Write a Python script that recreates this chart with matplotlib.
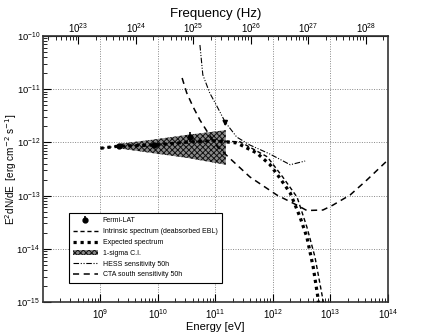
import numpy as np
import matplotlib
matplotlib.use("Agg")
import matplotlib.pyplot as plt

plt.rcParams['font.family'] = ['Liberation Sans', 'DejaVu Sans']
plt.rcParams['hatch.linewidth'] = 0.7

# Fermi-LAT points (log10 E [eV], log10 E^2dN/dE [erg cm-2 s-1])
fermi_logE = [9.32, 9.93, 10.56]
fermi_logF = [-12.07, -12.05, -11.90]
fermi_dlogF = [0.04, 0.04, 0.09]
# upper limit
ul_logE = 11.17
ul_logF = -11.55

# 1-sigma butterfly
bfly_logE = [9.3, 9.9, 10.5, 11.18]
bfly_up = [-12.03, -11.95, -11.86, -11.77]
bfly_lo = [-12.11, -12.2, -12.29, -12.42]

# intrinsic spectrum (deabsorbed EBL)
intr_logE = [9.0, 9.32, 9.93, 10.56, 11.0, 11.43, 11.9, 12.17, 12.42, 12.59, 12.73, 12.87, 12.9]
intr_logF = [-12.11, -12.07, -12.04, -11.99, -11.97, -11.99, -12.27, -12.65, -13.03, -13.59, -14.15, -14.96, -15.2]

# expected spectrum
exp_logE = [9.0, 9.32, 9.93, 10.56, 11.0, 11.37, 11.72, 11.95, 12.12, 12.3, 12.47, 12.59, 12.7, 12.78, 12.8]
exp_logF = [-12.11, -12.07, -12.05, -11.99, -11.97, -12.01, -12.2, -12.42, -12.67, -12.95, -13.4, -13.78, -14.34, -14.9, -15.1]

# HESS sensitivity 50h
hess_logE = [10.73, 10.78, 10.9, 11.03, 11.17, 11.37, 11.6, 11.95, 12.3, 12.56]
hess_logF = [-10.17, -10.73, -11.07, -11.33, -11.62, -11.9, -12.05, -12.22, -12.42, -12.35]

# CTA south sensitivity 50h
cta_logE = [10.42, 10.5, 10.61, 10.73, 10.87, 11.04, 11.22, 11.6, 12.07, 12.42, 12.59, 12.87, 13.04, 13.34, 13.63, 14.0]
cta_logF = [-10.79, -11.07, -11.33, -11.58, -11.82, -12.09, -12.27, -12.65, -12.99, -13.18, -13.28, -13.27, -13.18, -12.99, -12.71, -12.33]

p = lambda a: 10.0 ** np.array(a)

fig = plt.figure(figsize=(4.32, 3.36), dpi=100)
ax = fig.add_axes([0.0995, 0.101, 0.7985, 0.792])

fx = np.linspace(bfly_logE[0], bfly_logE[-1], 60)
ax.fill_between(p(fx), p(np.interp(fx, bfly_logE, bfly_lo)), p(np.interp(fx, bfly_logE, bfly_up)),
                facecolor='#8a8a8a', edgecolor='#111111', hatch='xxxxxx', linewidth=0,
                label='1-sigma C.I.', zorder=2)

ax.errorbar(p(fermi_logE), p(fermi_logF),
            yerr=[p(fermi_logF) - p(np.array(fermi_logF) - fermi_dlogF),
                  p(np.array(fermi_logF) + fermi_dlogF) - p(fermi_logF)],
            fmt='o', color='black', ms=3.5, elinewidth=1.2, capsize=0,
            label='Fermi-LAT', zorder=5)
ax.annotate('', xy=(p(ul_logE), p(ul_logF - 0.2)), xytext=(p(ul_logE), p(ul_logF)),
            arrowprops=dict(arrowstyle='-|>', color='black', lw=1.2, mutation_scale=7), zorder=5)

ax.plot(p(intr_logE), p(intr_logF), color='black', lw=1.0, ls=(0, (3, 2)),
        label='Intrinsic spectrum (deabsorbed EBL)', zorder=3)
ax.plot(p(exp_logE), p(exp_logF), color='black', lw=2.3, ls=(0, (1, 1.2)),
        label='Expected spectrum', zorder=3)
ax.plot(p(hess_logE), p(hess_logF), color='black', lw=0.8, ls=(0, (5, 1.5, 1, 1.5, 1, 1.5)),
        label='HESS sensitivity 50h', zorder=3)
ax.plot(p(cta_logE), p(cta_logF), color='black', lw=1.1, ls=(0, (4, 3)),
        label='CTA south sensitivity 50h', zorder=3)

ax.set_xscale('log')
ax.set_yscale('log')
ax.set_xlim(1e8, 1e14)
ax.set_ylim(1e-15, 1e-10)

ax.set_xticks([1e9, 1e10, 1e11, 1e12, 1e13, 1e14])
ax.set_yticks([1e-15, 1e-14, 1e-13, 1e-12, 1e-11, 1e-10])
ax.tick_params(which='both', direction='in', labelsize=7, right=False, top=False)
ax.tick_params(axis='y', labelsize=6.8, pad=2)
ax.tick_params(which='major', length=6, width=0.8)
ax.tick_params(which='minor', length=3, width=0.6)
for s in ax.spines.values():
    s.set_linewidth(1.2)
    s.set_color('#333333')

for v in [1e9, 1e10, 1e11, 1e12, 1e13]:
    ax.axvline(v, color='#888888', lw=0.7, ls=(0, (1, 1.5)), zorder=1)
for v in [1e-14, 1e-13, 1e-12, 1e-11]:
    ax.axhline(v, color='#888888', lw=0.7, ls=(0, (1, 1.5)), zorder=1)

ax.set_xlabel('Energy [eV]', fontsize=8, labelpad=1)
ax.set_ylabel(r'E$^2$dN/dE  [erg cm$^{-2}$ s$^{-1}$]', fontsize=7.2, labelpad=0)
ax.yaxis.set_label_coords(-0.07, 0.5)

ev2hz = 2.418e14
sec = ax.secondary_xaxis('top', functions=(lambda e: e * ev2hz, lambda nu: nu / ev2hz))
sec.set_xticks([1e23, 1e24, 1e25, 1e26, 1e27, 1e28])
sec.tick_params(which='both', direction='in', labelsize=7, pad=1)
sec.tick_params(which='major', length=6, width=0.8)
sec.tick_params(which='minor', length=3, width=0.6)
sec.set_xlabel('Frequency (Hz)', fontsize=9.5, labelpad=3)

h, l = ax.get_legend_handles_labels()
order = ['Fermi-LAT', 'Intrinsic spectrum (deabsorbed EBL)', 'Expected spectrum',
         '1-sigma C.I.', 'HESS sensitivity 50h', 'CTA south sensitivity 50h']
hd = dict(zip(l, h))
leg = ax.legend([hd[k] for k in order], order, loc='lower left', bbox_to_anchor=(0.064, 0.06),
                fontsize=5, frameon=True, fancybox=False, edgecolor='black', framealpha=1,
                handlelength=3.6, handletextpad=0.7, labelspacing=0.55, borderpad=0.6)
leg.get_frame().set_linewidth(0.8)

fig.savefig('out.png', dpi=100)
